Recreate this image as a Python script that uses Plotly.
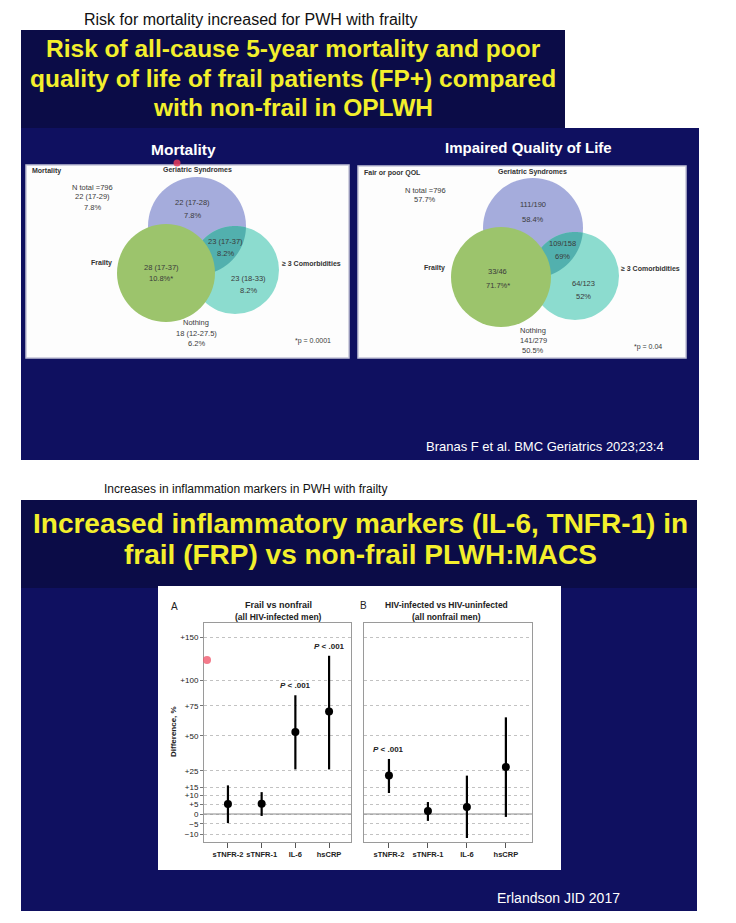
import numpy as np
import plotly.graph_objects as go

W, H = 736, 923

# ---------------- data ----------------
markers = ["sTNFR-2", "sTNFR-1", "IL-6", "hsCRP"]
frail_est = [5.3, 5.5, 53.0, 70.0]
frail_lo = [-4.6, -1.0, 26.0, 26.0]
frail_hi = [16.0, 12.0, 85.0, 127.0]
frail_p = ["", "", "P < .001", "P < .001"]
hiv_est = [22.0, 1.6, 3.7, 27.5]
hiv_lo = [11.5, -3.5, -11.7, -1.5]
hiv_hi = [33.0, 6.4, 22.0, 65.0]
hiv_p = ["P < .001", "", "", ""]
diff_ticks = [150, 100, 75, 50, 25, 15, 10, 5, 0, -5, -10]

venn_sets = ["Geriatric Syndromes", "Frailty", "≥ 3 Comorbidities"]
mort_total = ["N total =796", "22 (17-29)", "7.8%"]
mort_ger = ["22 (17-28)", "7.8%"]
mort_ger_com = ["23 (17-37)", "8.2%"]
mort_frail = ["28 (17-37)", "10.8%*"]
mort_com = ["23 (18-33)", "8.2%"]
mort_none = ["Nothing", "18 (12-27.5)", "6.2%"]
mort_pval = "*p = 0.0001"
qol_total = ["N total =796", "57.7%"]
qol_ger = ["111/190", "58.4%"]
qol_ger_com = ["109/158", "69%"]
qol_frail = ["33/46", "71.7%*"]
qol_com = ["64/123", "52%"]
qol_none = ["Nothing", "141/279", "50.5%"]
qol_pval = "*p = 0.04"

# ---------------- helpers ----------------
SANS = "Liberation Sans, Arial, sans-serif"
YELLOW = "#f3ef2c"
NAVY = "#0f1060"
NAVY_D = "#0b0c47"

shapes, anns = [], []


def px(x):
    return x / W


def py(y):
    return 1 - y / H


def rect(x0, y0, x1, y1, fill, line=None, lw=0, layer="below"):
    shapes.append(dict(type="rect", xref="paper", yref="paper",
                       x0=px(x0), x1=px(x1), y0=py(y1), y1=py(y0),
                       fillcolor=fill, line=dict(color=line or fill, width=lw),
                       layer=layer))


def circle(cx, cy, r, fill, layer="above"):
    shapes.append(dict(type="circle", xref="paper", yref="paper",
                       x0=px(cx - r), x1=px(cx + r), y0=py(cy + r), y1=py(cy - r),
                       fillcolor=fill, line=dict(width=0), layer=layer))


def lens(c1, c2, fill):
    pts = []
    for a, b in [(c1, c2), (c2, c1)]:
        ax, ay, ar = a
        bx, by, br = b
        phi0 = np.arctan2(by - ay, bx - ax)
        t = np.linspace(-np.pi, np.pi, 1441)
        xs = ax + ar * np.cos(phi0 + t)
        ys = ay + ar * np.sin(phi0 + t)
        inside = (xs - bx) ** 2 + (ys - by) ** 2 <= br ** 2
        pts += list(zip(xs[inside], ys[inside]))
    path = "M " + " L ".join(f"{px(x):.5f},{py(y):.5f}" for x, y in pts) + " Z"
    shapes.append(dict(type="path", xref="paper", yref="paper", path=path,
                       fillcolor=fill, line=dict(width=0), layer="above"))


def text(s, x, y, size, color="#3a3a3a", bold=False, family=SANS,
         xanchor="center", angle=0):
    if bold:
        s = f"<b>{s}</b>"
    anns.append(dict(text=s, x=px(x), y=py(y), xref="paper", yref="paper",
                     showarrow=False, xanchor=xanchor, yanchor="middle",
                     font=dict(size=size, color=color, family=family),
                     textangle=angle))


def lines(items, x, y0, dy, size=7.5, **kw):
    for i, s in enumerate(items):
        text(s, x, y0 + i * dy, size, **kw)


# ---------------- top slide ----------------
text("Risk for mortality increased for PWH with frailty", 250, 19, 16, color="#111")
rect(21, 30, 565, 130, NAVY_D)
rect(21, 128, 699, 460, NAVY)
for i, s in enumerate(["Risk of all-cause 5-year mortality and poor",
                       "quality of life of frail patients (FP+) compared",
                       "with non-frail in OPLWH"]):
    text(s, 293, 48 + i * 30, 24.5, color=YELLOW, bold=True)

text("Mortality", 183, 150, 15.5, color="white", bold=True)
text("Impaired Quality of Life", 528, 148, 15, color="white", bold=True)
rect(26, 165, 349, 358, "#fdfdfd", line="#c4c4d8", lw=1.5)
rect(358, 166, 686, 358, "#fdfdfd", line="#c4c4d8", lw=1.5)

GER, FRA, COM, LENS = "#a5acdc", "#9cc46c", "#8cdccf", "#52b0ae"
LBL = "#333333"

# Mortality venn
m_ger, m_fra, m_com = (197, 226, 49), (166, 273, 49), (235, 270, 44)
circle(*m_ger, GER)
circle(*m_com, COM)
lens(m_ger, m_com, LENS)
circle(*m_fra, FRA)
text("Mortality", 30, 171, 7, color=LBL, bold=True, xanchor="left")
text(venn_sets[0], 197, 170, 7, color=LBL, bold=True)
lines(mort_total, 92, 187, 10)
lines(mort_ger, 192, 202, 14)
lines(mort_ger_com, 226, 241, 12)
text(venn_sets[1], 101, 263, 7, color=LBL, bold=True)
lines(mort_frail, 161, 267, 11)
text(venn_sets[2], 280, 263, 7, color=LBL, bold=True, xanchor="left")
lines(mort_com, 248, 278, 13)
lines(mort_none, 196, 323, 10)
text(mort_pval, 313, 341, 7)

# QoL venn
q_ger, q_fra, q_com = (533, 228, 50), (501, 277, 50), (575, 276, 44)
circle(*q_ger, GER)
circle(*q_com, COM)
lens(q_ger, q_com, LENS)
circle(*q_fra, FRA)
text("Fair or poor QOL", 362, 173, 7, color=LBL, bold=True, xanchor="left")
text(venn_sets[0], 532, 172, 7, color=LBL, bold=True)
lines(qol_total, 425, 190, 10)
lines(qol_ger, 533, 204, 15)
lines(qol_ger_com, 562, 244, 13)
text(venn_sets[1], 434, 268, 7, color=LBL, bold=True)
lines(qol_frail, 498, 272, 13)
text(venn_sets[2], 619, 268, 7, color=LBL, bold=True, xanchor="left")
lines(qol_com, 583, 283, 13)
lines(qol_none, 533, 330, 10)
text(qol_pval, 648, 347, 7)

text("Branas F et al. BMC Geriatrics 2023;23:4", 666, 446, 13,
     color="white", xanchor="right")

# cursor marks
circle(177, 163, 3.5, "rgba(230,60,90,0.85)")
circle(207, 660, 4, "rgba(240,90,110,0.8)")

# ---------------- bottom slide ----------------
text("Increases in inflammation markers in PWH with frailty", 245, 489, 12, color="#111")
rect(21, 500, 697, 590, NAVY_D)
rect(21, 588, 697, 911, NAVY)
text("Increased inflammatory markers (IL-6, TNFR-1) in", 360, 523, 28,
     color=YELLOW, bold=True)
text("frail (FRP) vs non-frail PLWH:MACS", 360, 554, 28,
     color=YELLOW, bold=True)
rect(158, 586, 561, 870, "white")
text("Erlandson JID 2017", 558, 898, 14, color="white")

text("A", 174, 606, 10, color="#222")
text("Frail vs nonfrail", 278, 605, 9, color="#222", bold=True)
text("(all HIV-infected men)", 278, 617, 8.5, color="#222", bold=True)
text("B", 363, 605, 10, color="#222")
text("HIV-infected vs HIV-uninfected", 446, 605, 8.5, color="#222", bold=True)
text("(all nonfrail men)", 446, 617, 8.5, color="#222", bold=True)
text("Difference, %", 173, 732, 8, color="#222", bold=True, angle=-90)

# ---------------- plots ----------------
xpos = list(range(len(markers)))
xr_a = [-0.71, 3.65]
xr_b = [-0.64, 3.67]


def ratio(v):
    return 1 + np.array(v, dtype=float) / 100


fig = go.Figure()
for k, (est, lo, hi, pv, xr) in enumerate([(frail_est, frail_lo, frail_hi, frail_p, xr_a),
                                            (hiv_est, hiv_lo, hiv_hi, hiv_p, xr_b)]):
    xa, ya = ("x", "y") if k == 0 else ("x2", "y2")
    e, l, h = ratio(est), ratio(lo), ratio(hi)
    # reference line at 0 % difference
    fig.add_trace(go.Scatter(x=xr, y=[1, 1], xaxis=xa, yaxis=ya, mode="lines",
                             line=dict(color="#8a8a8a", width=1),
                             showlegend=False, hoverinfo="skip"))
    fig.add_trace(go.Scatter(
        x=xpos, y=e, xaxis=xa, yaxis=ya, mode="markers",
        marker=dict(color="black", size=8),
        error_y=dict(type="data", symmetric=False, array=h - e, arrayminus=e - l,
                     color="black", thickness=2.2, width=0),
        showlegend=False, hoverinfo="skip"))
    for i, s in enumerate(pv):
        if s:
            anns.append(dict(text="<b><i>P</i> < .001</b>", x=xpos[i], y=np.log10(h[i]),
                             xref=xa, yref=ya, showarrow=False, yanchor="bottom",
                             yshift=3, font=dict(size=8, color="#222", family=SANS)))

yr = [np.log10(0.865), np.log10(2.69)]
ytickvals = list(ratio(diff_ticks))
yticktext = [("+" if v > 0 else ("−" if v < 0 else "")) + str(abs(v)) for v in diff_ticks]
xcommon = dict(tickvals=xpos, ticktext=[f"<b>{m}</b>" for m in markers],
               ticks="outside", ticklen=5, tickcolor="#555", tickangle=0,
               tickfont=dict(size=7.5, color="#222", family=SANS),
               showline=True, mirror=True, linecolor="#9a9a9a", linewidth=1,
               showgrid=False, zeroline=False, fixedrange=True)
ycommon = dict(type="log", range=yr, tickvals=ytickvals, ticktext=yticktext,
               showgrid=True, gridcolor="#c2c2c2", griddash="dot", gridwidth=1,
               showline=True, mirror=True, linecolor="#9a9a9a", linewidth=1,
               zeroline=False, fixedrange=True,
               tickfont=dict(size=8, color="#222", family=SANS))

fig.update_layout(
    width=W, height=H, autosize=False,
    margin=dict(l=0, r=0, t=0, b=0),
    paper_bgcolor="white", plot_bgcolor="rgba(0,0,0,0)",
    xaxis=dict(domain=[px(204), px(351)], range=xr_a, anchor="y", **xcommon),
    yaxis=dict(domain=[py(842), py(623)], anchor="x", ticks="outside", ticklen=3,
               tickcolor="#777", **ycommon),
    xaxis2=dict(domain=[px(364), px(532)], range=xr_b, anchor="y2", **xcommon),
    yaxis2=dict(domain=[py(842), py(623)], anchor="x2", ticks="",
                showticklabels=False, **ycommon),
    shapes=shapes, annotations=anns,
)
fig.write_html("out.html")
